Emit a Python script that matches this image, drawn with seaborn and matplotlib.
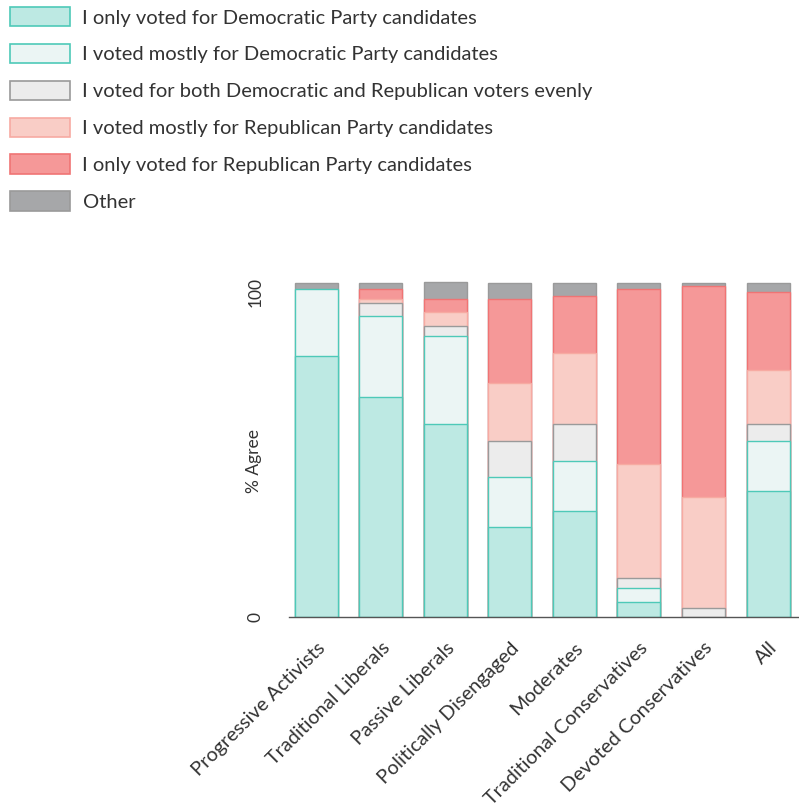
import numpy as np
import pandas as pd
import matplotlib
matplotlib.use("Agg")
import matplotlib.pyplot as plt
import seaborn as sns
from matplotlib.patches import Patch

# Groups on the x axis
groups = ["Progressive Activists", "Traditional Liberals", "Passive Liberals",
          "Politically Disengaged", "Moderates", "Traditional Conservatives",
          "Devoted Conservatives", "All"]

# Answer categories, bottom to top of the stack
answers = ["I only voted for Democratic Party candidates",
           "I voted mostly for Democratic Party candidates",
           "I voted for both Democratic and Republican voters evenly",
           "I voted mostly for Republican Party candidates",
           "I only voted for Republican Party candidates",
           "Other"]

# Percent values per answer
dem_only = [80.3, 67.8, 59.5, 27.6, 32.7, 4.7, 0.0, 38.9]
dem_mostly = [20.5, 24.9, 27.1, 15.4, 15.4, 4.2, 0.0, 15.3]
both_even = [0.0, 4.0, 3.0, 11.2, 11.3, 3.1, 2.7, 5.2]
rep_mostly = [0.0, 1.0, 4.1, 17.7, 21.9, 35.1, 34.1, 16.6]
rep_only = [0.0, 3.2, 4.2, 25.9, 17.5, 53.8, 65.0, 23.9]
other = [2.0, 2.0, 5.1, 5.1, 4.1, 2.0, 1.1, 3.0]

fills = ["#bde9e3", "#ebf5f4", "#ececec", "#f9cdc6", "#f59898", "#a6a7a9"]
edges = ["#4ec9b8", "#4ec9b8", "#9a9a9a", "#f7aaa2", "#f07474", "#9a9a9a"]

values = [dem_only, dem_mostly, both_even, rep_mostly, rep_only, other]

# long table with the cumulative top of every segment
rows = []
for a, vals in zip(answers, values):
    for g, v in zip(groups, vals):
        rows.append({"group": g, "answer": a, "value": v})
df = pd.DataFrame(rows)
df["answer"] = pd.Categorical(df["answer"], categories=answers, ordered=True)
df["group"] = pd.Categorical(df["group"], categories=groups, ordered=True)
df = df.sort_values(["group", "answer"])
df["top"] = df.groupby("group", observed=True)["value"].cumsum()

sns.set_style("white")
plt.rcParams["font.family"] = ["Lato", "DejaVu Sans"]
text_color = "#333333"

fig = plt.figure(figsize=(7.99, 8.08), dpi=100)
ax = fig.add_axes([0.362, 0.2364, 0.638, 0.4163])

# draw from the top layer down so lower segments cover the taller bars
for i in range(len(answers) - 1, -1, -1):
    sub = df[(df["answer"] == answers[i]) & (df["value"] > 0)]
    sns.barplot(data=sub, x="group", y="top", order=groups, color=fills[i],
                edgecolor=edges[i], linewidth=1.0, width=0.667, saturation=1,
                ax=ax)

ax.set_xlim(-0.42, 7.48)
ax.set_ylim(0, 103.5)
ax.set_yticks([0, 100])
ax.set_yticklabels(["0", "100"], rotation=90, va="center", color=text_color,
                   fontsize=12.5)
ax.tick_params(axis="y", length=0, pad=18.5)
ax.tick_params(axis="x", length=0, pad=16)
ax.set_xticks(range(len(groups)))
ax.set_xticklabels(groups, rotation=45, ha="right", rotation_mode="anchor",
                   color=text_color, fontsize=14.3)
ax.set_xlabel("")
ax.set_ylabel("% Agree", color=text_color, fontsize=12.5)
ax.yaxis.set_label_coords(-0.053, 0.464)

for s in ["top", "right", "left"]:
    ax.spines[s].set_visible(False)
ax.spines["bottom"].set_color("#555555")
ax.spines["bottom"].set_linewidth(1.0)

handles = [Patch(facecolor=f, edgecolor=e, linewidth=1.2) for f, e in zip(fills, edges)]
fig.legend(handles, answers, loc="upper left", bbox_to_anchor=(10 / 799, 1 - 7 / 808),
           frameon=False, fontsize=14.5, handlelength=3.0, handleheight=1.1,
           handletextpad=0.6, labelspacing=0.86, borderpad=0, borderaxespad=0,
           labelcolor=text_color)

fig.savefig("out.png", dpi=100)
